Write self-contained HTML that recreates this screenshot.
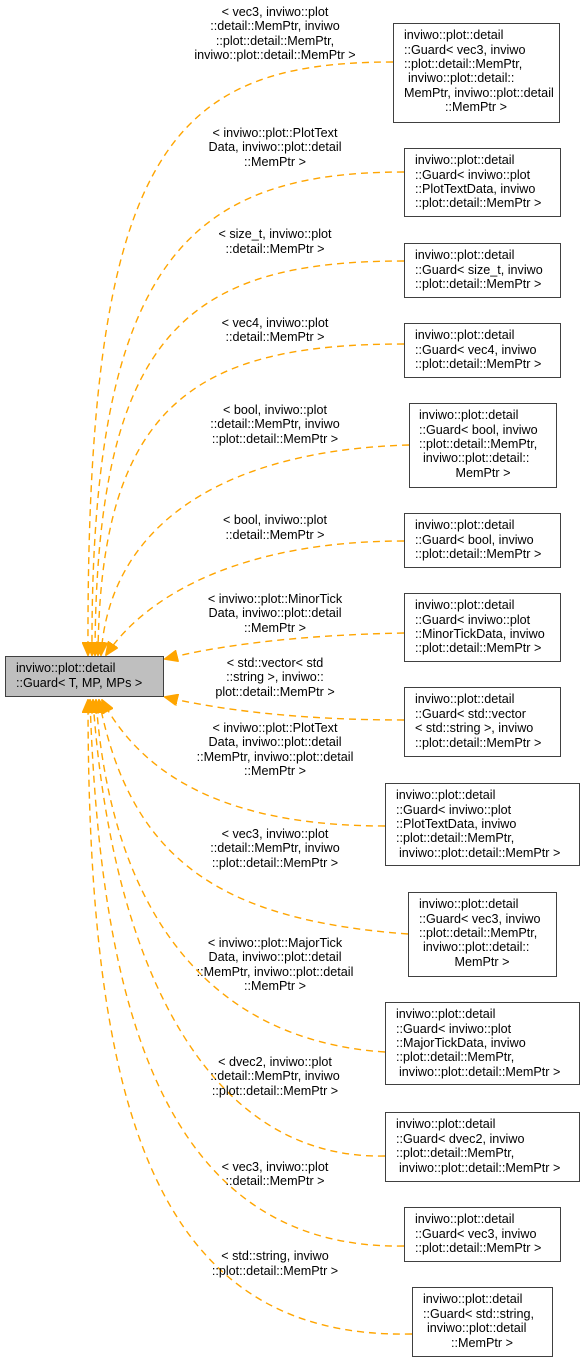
<!DOCTYPE html>
<html><head><meta charset="utf-8"><style>
html,body{margin:0;padding:0;background:#fff;}
svg{display:block;}
text{font-family:"Liberation Sans",Arial,sans-serif;font-size:12.6px;fill:#000;}
</style></head><body>
<svg width="585" height="1363" viewBox="0 0 585 1363" xmlns="http://www.w3.org/2000/svg">
<defs>
<marker id="a" markerWidth="14" markerHeight="12" refX="13" refY="6" orient="auto" markerUnits="userSpaceOnUse">
<path d="M0,0 L14,6 L0,12 z" fill="orange" stroke="orange"/>
</marker>
</defs>
<g fill="none" stroke="orange" stroke-width="1.4" stroke-dasharray="7,5" marker-end="url(#a)">
<path d="M393,62 C170,62 86,150 88,655"/>
<path d="M404,172 C190,172 90,260 92,655"/>
<path d="M404,261 C190,261 96,330 95,655"/>
<path d="M404,344 C200,344 100,400 98,655"/>
<path d="M409,445 C230,450 110,520 101,655"/>
<path d="M404,541 C250,541 150,590 106,655"/>
<path d="M404,633 C300,635 220,645 165,659"/>
<path d="M404,720 C300,720 220,710 165,697"/>
<path d="M385,826 C250,826 150,790 102,700"/>
<path d="M408,934 C220,920 130,860 99,700"/>
<path d="M385,1052 C200,1040 110,900 96,700"/>
<path d="M385,1156 C200,1160 110,950 93,700"/>
<path d="M404,1246 C160,1250 100,1000 90,700"/>
<path d="M412,1334 C150,1340 88,1100 88,700"/>
</g>
<rect x="5.5" y="656.5" width="158" height="40" fill="#bfbfbf" stroke="#404040"/>
<text x="16" y="672">inviwo::plot::detail</text>
<text x="16" y="687">::Guard&lt; T, MP, MPs &gt;</text>
<g fill="#fff" stroke="#404040">
<rect x="393.5" y="23.5" width="166" height="99"/>
<rect x="404.5" y="148.5" width="156" height="68"/>
<rect x="404.5" y="243.5" width="156" height="54"/>
<rect x="404.5" y="323.5" width="156" height="54"/>
<rect x="409.5" y="403.5" width="147" height="84"/>
<rect x="404.5" y="513.5" width="156" height="54"/>
<rect x="404.5" y="593.5" width="156" height="68"/>
<rect x="404.5" y="687.5" width="156" height="69"/>
<rect x="385.5" y="783.5" width="194" height="82"/>
<rect x="408.5" y="892.5" width="148" height="84"/>
<rect x="385.5" y="1002.5" width="194" height="82"/>
<rect x="385.5" y="1112.5" width="194" height="69"/>
<rect x="404.5" y="1207.5" width="156" height="54"/>
<rect x="412.5" y="1287.5" width="140" height="69"/>
</g>
<g>
<text x="404" y="39">inviwo::plot::detail</text><text x="404" y="54">::Guard&lt; vec3, inviwo</text><text x="404" y="68">::plot::detail::MemPtr,</text><text x="408" y="82">inviwo::plot::detail::</text><text x="404" y="97">MemPtr, inviwo::plot::detail</text><text x="476" y="111" text-anchor="middle">::MemPtr &gt;</text>
<text x="415" y="164">inviwo::plot::detail</text><text x="415" y="179">::Guard&lt; inviwo::plot</text><text x="415" y="193">::PlotTextData, inviwo</text><text x="415" y="207">::plot::detail::MemPtr &gt;</text>
<text x="415" y="259">inviwo::plot::detail</text><text x="415" y="274">::Guard&lt; size_t, inviwo</text><text x="415" y="288">::plot::detail::MemPtr &gt;</text>
<text x="415" y="339">inviwo::plot::detail</text><text x="415" y="354">::Guard&lt; vec4, inviwo</text><text x="415" y="368">::plot::detail::MemPtr &gt;</text>
<text x="419" y="419">inviwo::plot::detail</text><text x="419" y="434">::Guard&lt; bool, inviwo</text><text x="419" y="448">::plot::detail::MemPtr,</text><text x="423" y="462">inviwo::plot::detail::</text><text x="483" y="477" text-anchor="middle">MemPtr &gt;</text>
<text x="415" y="529">inviwo::plot::detail</text><text x="415" y="544">::Guard&lt; bool, inviwo</text><text x="415" y="558">::plot::detail::MemPtr &gt;</text>
<text x="415" y="609">inviwo::plot::detail</text><text x="415" y="624">::Guard&lt; inviwo::plot</text><text x="415" y="638">::MinorTickData, inviwo</text><text x="415" y="652">::plot::detail::MemPtr &gt;</text>
<text x="415" y="703">inviwo::plot::detail</text><text x="415" y="718">::Guard&lt; std::vector</text><text x="415" y="732">&lt; std::string &gt;, inviwo</text><text x="415" y="747">::plot::detail::MemPtr &gt;</text>
<text x="396" y="799">inviwo::plot::detail</text><text x="396" y="814">::Guard&lt; inviwo::plot</text><text x="396" y="828">::PlotTextData, inviwo</text><text x="396" y="842">::plot::detail::MemPtr,</text><text x="399" y="857">inviwo::plot::detail::MemPtr &gt;</text>
<text x="419" y="908">inviwo::plot::detail</text><text x="419" y="923">::Guard&lt; vec3, inviwo</text><text x="419" y="937">::plot::detail::MemPtr,</text><text x="423" y="951">inviwo::plot::detail::</text><text x="482" y="966" text-anchor="middle">MemPtr &gt;</text>
<text x="396" y="1018">inviwo::plot::detail</text><text x="396" y="1033">::Guard&lt; inviwo::plot</text><text x="396" y="1047">::MajorTickData, inviwo</text><text x="396" y="1061">::plot::detail::MemPtr,</text><text x="399" y="1076">inviwo::plot::detail::MemPtr &gt;</text>
<text x="396" y="1128">inviwo::plot::detail</text><text x="396" y="1143">::Guard&lt; dvec2, inviwo</text><text x="396" y="1157">::plot::detail::MemPtr,</text><text x="399" y="1172">inviwo::plot::detail::MemPtr &gt;</text>
<text x="415" y="1223">inviwo::plot::detail</text><text x="415" y="1238">::Guard&lt; vec3, inviwo</text><text x="415" y="1252">::plot::detail::MemPtr &gt;</text>
<text x="423" y="1303">inviwo::plot::detail</text><text x="423" y="1318">::Guard&lt; std::string,</text><text x="427" y="1332">inviwo::plot::detail</text><text x="482" y="1347" text-anchor="middle">::MemPtr &gt;</text>
</g>
<g text-anchor="middle">
<text x="275" y="16">&lt; vec3, inviwo::plot</text><text x="275" y="30">::detail::MemPtr, inviwo</text><text x="275" y="45">::plot::detail::MemPtr,</text><text x="275" y="59">inviwo::plot::detail::MemPtr &gt;</text>
<text x="275" y="137">&lt; inviwo::plot::PlotText</text><text x="275" y="151">Data, inviwo::plot::detail</text><text x="275" y="166">::MemPtr &gt;</text>
<text x="275" y="238">&lt; size_t, inviwo::plot</text><text x="275" y="253">::detail::MemPtr &gt;</text>
<text x="275" y="327">&lt; vec4, inviwo::plot</text><text x="275" y="341">::detail::MemPtr &gt;</text>
<text x="275" y="414">&lt; bool, inviwo::plot</text><text x="275" y="428">::detail::MemPtr, inviwo</text><text x="275" y="443">::plot::detail::MemPtr &gt;</text>
<text x="275" y="524">&lt; bool, inviwo::plot</text><text x="275" y="539">::detail::MemPtr &gt;</text>
<text x="275" y="603">&lt; inviwo::plot::MinorTick</text><text x="275" y="617">Data, inviwo::plot::detail</text><text x="275" y="632">::MemPtr &gt;</text>
<text x="275" y="667">&lt; std::vector&lt; std</text><text x="275" y="681">::string &gt;, inviwo::</text><text x="275" y="696">plot::detail::MemPtr &gt;</text>
<text x="275" y="732">&lt; inviwo::plot::PlotText</text><text x="275" y="746">Data, inviwo::plot::detail</text><text x="275" y="761">::MemPtr, inviwo::plot::detail</text><text x="275" y="775">::MemPtr &gt;</text>
<text x="275" y="838">&lt; vec3, inviwo::plot</text><text x="275" y="852">::detail::MemPtr, inviwo</text><text x="275" y="867">::plot::detail::MemPtr &gt;</text>
<text x="275" y="947">&lt; inviwo::plot::MajorTick</text><text x="275" y="961">Data, inviwo::plot::detail</text><text x="275" y="976">::MemPtr, inviwo::plot::detail</text><text x="275" y="990">::MemPtr &gt;</text>
<text x="275" y="1066">&lt; dvec2, inviwo::plot</text><text x="275" y="1080">::detail::MemPtr, inviwo</text><text x="275" y="1095">::plot::detail::MemPtr &gt;</text>
<text x="275" y="1171">&lt; vec3, inviwo::plot</text><text x="275" y="1185">::detail::MemPtr &gt;</text>
<text x="275" y="1260">&lt; std::string, inviwo</text><text x="275" y="1275">::plot::detail::MemPtr &gt;</text>
</g>
</svg>
</body></html>
